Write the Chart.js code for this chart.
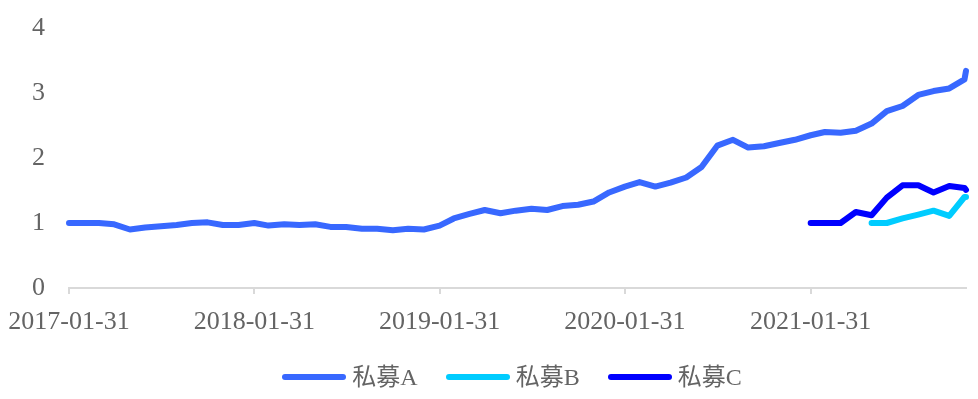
<!DOCTYPE html>
<html>
<head>
<meta charset="utf-8">
<script src="https://cdn.jsdelivr.net/npm/chart.js@4.4.1/dist/chart.umd.min.js"></script>
<style>
    html, body { margin: 0; padding: 0; background: #ffffff; }
    #wrap { width: 978px; height: 399px; position: relative; }
    #legend {
        position: absolute; left: 0; top: 365px; width: 978px; height: 24px;
        box-sizing: border-box; padding-left: 46px;
        display: flex; justify-content: center; align-items: center;
        font-family: 'Liberation Serif', 'Times New Roman', 'Noto Sans CJK SC', serif;
        font-size: 24px; line-height: 24px; color: #646464;
    }
    .legend-item { display: flex; align-items: center; margin: 0 14px; }
    .legend-line { width: 64px; height: 6px; border-radius: 3px; margin-right: 6px; }
</style>
</head>
<body>
<div id="wrap">
    <canvas id="navChart"></canvas>
    <div id="legend"></div>
</div>
<script>
// month-end dates, last one is a partial month
const dates = [
    '2017-01-31', '2017-02-28', '2017-03-31', '2017-04-30', '2017-05-31', '2017-06-30',
    '2017-07-31', '2017-08-31', '2017-09-30', '2017-10-31', '2017-11-30', '2017-12-31',
    '2018-01-31', '2018-02-28', '2018-03-31', '2018-04-30', '2018-05-31', '2018-06-30',
    '2018-07-31', '2018-08-31', '2018-09-30', '2018-10-31', '2018-11-30', '2018-12-31',
    '2019-01-31', '2019-02-28', '2019-03-31', '2019-04-30', '2019-05-31', '2019-06-30',
    '2019-07-31', '2019-08-31', '2019-09-30', '2019-10-31', '2019-11-30', '2019-12-31',
    '2020-01-31', '2020-02-29', '2020-03-31', '2020-04-30', '2020-05-31', '2020-06-30',
    '2020-07-31', '2020-08-31', '2020-09-30', '2020-10-31', '2020-11-30', '2020-12-31',
    '2021-01-31', '2021-02-28', '2021-03-31', '2021-04-30', '2021-05-31', '2021-06-30',
    '2021-07-31', '2021-08-31', '2021-09-30', '2021-10-31', '2021-11-30', '2021-12-03'
];

const fundA = [
    1.00, 1.00, 1.00, 0.98, 0.90, 0.93, 0.95, 0.97, 1.00, 1.01, 0.97, 0.97,
    1.00, 0.96, 0.98, 0.97, 0.98, 0.94, 0.94, 0.91, 0.91, 0.89, 0.91, 0.90,
    0.96, 1.07, 1.14, 1.20, 1.15, 1.19, 1.22, 1.20, 1.26, 1.28, 1.33, 1.47,
    1.56, 1.63, 1.56, 1.62, 1.70, 1.86, 2.19, 2.28, 2.16, 2.18, 2.23, 2.28,
    2.35, 2.40, 2.39, 2.42, 2.53, 2.72, 2.80, 2.97, 3.03, 3.07, 3.21, 3.34
];

const fundB = [
    null, null, null, null, null, null, null, null, null, null, null, null,
    null, null, null, null, null, null, null, null, null, null, null, null,
    null, null, null, null, null, null, null, null, null, null, null, null,
    null, null, null, null, null, null, null, null, null, null, null, null,
    null, null, null, null, 1.00, 1.00, 1.07, 1.13, 1.19, 1.11, 1.40, 1.40
];

const fundC = [
    null, null, null, null, null, null, null, null, null, null, null, null,
    null, null, null, null, null, null, null, null, null, null, null, null,
    null, null, null, null, null, null, null, null, null, null, null, null,
    null, null, null, null, null, null, null, null, null, null, null, null,
    1.00, 1.00, 1.00, 1.17, 1.12, 1.39, 1.58, 1.58, 1.47, 1.57, 1.54, 1.51
];

const seriesNames = ['私募A', '私募B', '私募C'];
const seriesColors = ['#3868ff', '#00ccff', '#0000ff'];

const xTickLabels = ['2017-01-31', '2018-01-31', '2019-01-31', '2020-01-31', '2021-01-31'];
const yTicks = [0, 1, 2, 3, 4];

const textColor = '#646464';
const axisColor = '#d9d9d9';
const fontFamily = "'Liberation Serif', 'Times New Roman', 'Noto Sans CJK SC', serif";

// days since the first date, so the x axis runs on calendar time
function dayOffset(d) {
    return (Date.parse(d) - Date.parse(dates[0])) / 86400000;
}

function toPoints(values) {
    return values.map((v, i) => ({ x: dayOffset(dates[i]), y: v }));
}

const tickDays = xTickLabels.map(dayOffset);

const datasets = [fundA, fundB, fundC].map((vals, i) => ({
    label: seriesNames[i],
    data: toPoints(vals),
    borderColor: seriesColors[i],
    backgroundColor: seriesColors[i],
    borderWidth: 6,
    borderCapStyle: 'round',
    borderJoinStyle: 'round',
    pointRadius: 0,
    pointHoverRadius: 0,
    tension: 0,
    spanGaps: false,
    clip: false
}));

// legend drawn as html below the canvas
const legendBox = document.getElementById('legend');
seriesNames.forEach((name, i) => {
    let item = document.createElement('div');
    item.classList.add('legend-item');
    item.innerHTML = `<span class="legend-line" style="background:${seriesColors[i]}"></span><span>${name}</span>`;
    legendBox.appendChild(item);
});

const ctx = document.getElementById('navChart').getContext('2d');
new Chart(ctx, {
    type: 'line',
    data: { datasets: datasets },
    options: {
        responsive: true,
        maintainAspectRatio: false,
        animation: false,
        layout: { padding: { top: 28, right: 12, left: 0, bottom: 61 } },
        plugins: {
            tooltip: { enabled: false },
            legend: { display: false }
        },
        scales: {
            x: {
                type: 'linear',
                min: 0,
                max: dayOffset(dates[dates.length - 1]),
                afterBuildTicks: (scale) => {
                    scale.ticks = tickDays.map(v => ({ value: v }));
                },
                afterFit: (scale) => {
                    scale.height = 50;
                    scale.paddingLeft = 0;
                    scale.paddingRight = 0;
                },
                ticks: {
                    autoSkip: false,
                    maxRotation: 0,
                    padding: 13,
                    color: textColor,
                    font: { family: fontFamily, size: 26 },
                    callback: (value) => {
                        const k = tickDays.indexOf(value);
                        return k >= 0 ? xTickLabels[k] : '';
                    }
                },
                grid: {
                    drawOnChartArea: false,
                    drawTicks: true,
                    tickLength: 6,
                    color: axisColor,
                    lineWidth: 2
                },
                border: { display: true, color: axisColor, width: 2 }
            },
            y: {
                min: 0,
                max: 4,
                afterBuildTicks: (scale) => {
                    scale.ticks = yTicks.map(v => ({ value: v }));
                },
                afterFit: (scale) => {
                    scale.width = 69;
                    scale.paddingTop = 0;
                    scale.paddingBottom = 0;
                },
                ticks: {
                    padding: 24,
                    color: textColor,
                    font: { family: fontFamily, size: 26 }
                },
                grid: { display: false, drawTicks: false },
                border: { display: false }
            }
        }
    }
});
</script>
</body>
</html>
